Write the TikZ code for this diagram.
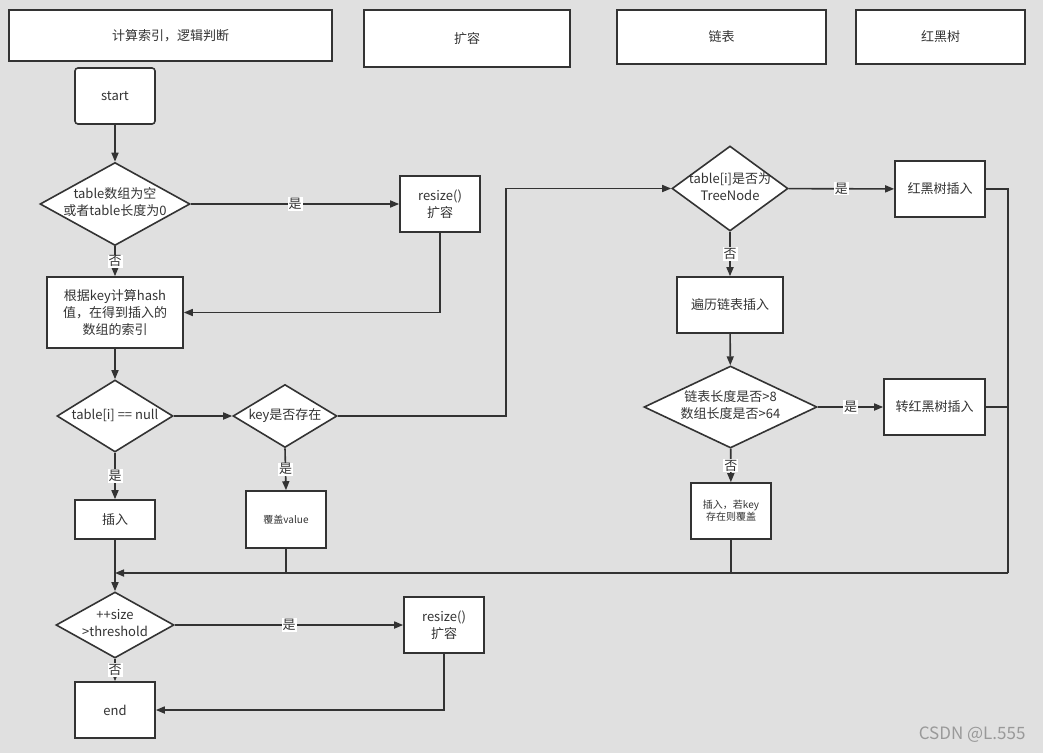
\documentclass[tikz,border=0pt]{standalone}
\usepackage{fontspec}
\setmainfont{Noto Sans CJK SC}
\usetikzlibrary{arrows.meta,calc,positioning,shapes.geometric}

\definecolor{bgGray}{RGB}{224,224,224}
\definecolor{lineGray}{RGB}{51,51,51}

% text of a decision, kept out of the diamond's size
\newcommand{\dtext}[1]{\makebox[0pt]{\begin{tabular}{@{}c@{}}#1\end{tabular}}}

\tikzset{
  flowbox/.style={draw=lineGray, fill=white, line width=1.6pt, align=center,
    text=lineGray, minimum width=80, minimum height=56, inner sep=2pt},
  decision/.style={diamond, draw=lineGray, fill=white, line width=1.6pt,
    text=lineGray, inner sep=0pt},
  yesno/.style={fill=white, inner sep=1pt, text=lineGray},
  flowline/.style={draw=lineGray, line width=1.6pt},
  flowarrow/.style={flowline, -{Triangle[length=9pt,width=7pt]}},
  smalltext/.style={font=\fontsize{10}{12}\selectfont},
}

\begin{document}
\begin{tikzpicture}[x=1pt, y=-1pt, font=\fontsize{13}{17}\selectfont]
  \useasboundingbox[fill=bgGray] (0,0) rectangle (1043,753);

  % Column headers
  \node[flowbox, minimum width=323, minimum height=51] (h1) at (170.5,35.5) {计算索引，逻辑判断};
  \node[flowbox, minimum width=206, minimum height=57] (h2) at (467,38.5) {扩容};
  \node[flowbox, minimum width=209, minimum height=54] (h3) at (721.5,37) {链表};
  \node[flowbox, minimum width=169, minimum height=54] (h4) at (940.5,37) {红黑树};

  % Index calculation column
  \node[flowbox, rounded corners=3pt] (start) at (115,96) {start};
  \node[decision, minimum width=150, minimum height=83] (d1) at (115,204)
    {\dtext{table数组为空\\或者table长度为0}};
  \node[flowbox, minimum width=136, minimum height=71] (hash) at (115,312.5)
    {根据key计算hash\\值，在得到插入的\\数组的索引};
  \node[decision, minimum width=116, minimum height=72] (d2) at (115,416)
    {\dtext{table[i] == null}};
  \node[decision, minimum width=104, minimum height=63] (d3) at (285,416)
    {\dtext{key是否存在}};
  \node[flowbox, minimum height=39] (ins) at (115,519.5) {插入};
  \node[flowbox, minimum height=57, smalltext] (cov) at (286,519.5) {覆盖value};
  \node[decision, minimum width=118, minimum height=66] (d6) at (115,625)
    {\dtext{++size\\>threshold}};
  \node[flowbox] (fin) at (115,710) {end};

  % Resize column
  \node[flowbox] (rs1) at (440,204) {resize()\\扩容};
  \node[flowbox] (rs2) at (444,625) {resize()\\扩容};

  % Linked list column
  \node[decision, minimum width=116, minimum height=85] (d4) at (730,188.5)
    {\dtext{table[i]是否为\\TreeNode}};
  \node[flowbox, minimum width=106] (trav) at (730,305) {遍历链表插入};
  \node[decision, minimum width=173, minimum height=82] (d5) at (730.5,407)
    {\dtext{链表长度是否>8\\数组长度是否>64}};
  \node[flowbox, smalltext] (ins2) at (731,511) {插入，若key\\存在则覆盖};

  % Red-black tree column
  \node[flowbox, minimum width=90] (rbi) at (940,189) {红黑树插入};
  \node[flowbox, minimum width=101] (tree) at (934.5,407) {转红黑树插入};

  % Joining points
  \coordinate (rt) at (1008,573);
  \coordinate (jn) at (115,573);

  % Connectors
  \draw[flowarrow] (start) -- (d1);
  \draw[flowarrow] (d1) -- node[yesno] (y1) {是} (rs1);
  \draw[flowarrow] (d1) -- node[yesno] (n1) {否} (hash);
  \draw[flowarrow] (rs1.south) |- (hash.east);
  \draw[flowarrow] (hash) -- (d2);
  \draw[flowarrow] (d2) -- (d3);
  \draw[flowarrow] (d3.east) -- ++(168,0) |- (d4.west);
  \draw[flowarrow] (d2) -- node[yesno] (y2) {是} (ins);
  \draw[flowarrow] (d3.south) -- node[yesno] (y3) {是} (cov.north);
  \draw[flowarrow] (d4) -- node[yesno] (y4) {是} (rbi);
  \draw[flowarrow] (d4) -- node[yesno] (n4) {否} (trav);
  \draw[flowarrow] (trav) -- (d5);
  \draw[flowarrow] (d5) -- node[yesno] (y5) {是} (tree);
  \draw[flowarrow] (d5) -- node[yesno] (n5) {否} (ins2);

  % Back to the size check
  \draw[flowline] (rbi.east) -| (rt);
  \draw[flowline] (tree.east) -- (tree.east -| rt);
  \draw[flowline] (ins2.south) -- (ins2.south |- rt);
  \draw[flowline] (cov.south) -- (cov.south |- rt);
  \draw[flowarrow] (rt) -- (jn);
  \draw[flowarrow] (ins) -- (d6);
  \draw[flowarrow] (d6) -- node[yesno] (y6) {是} (rs2);
  \draw[flowarrow] (d6) -- node[yesno] (n6) {否} (fin);
  \draw[flowarrow] (rs2.south) |- (fin.east);

  % Watermark
  \node[text=black!40, font=\fontsize{17}{20}\selectfont, anchor=east] (mark) at (1029,735) {CSDN @L.555};
\end{tikzpicture}
\end{document}
